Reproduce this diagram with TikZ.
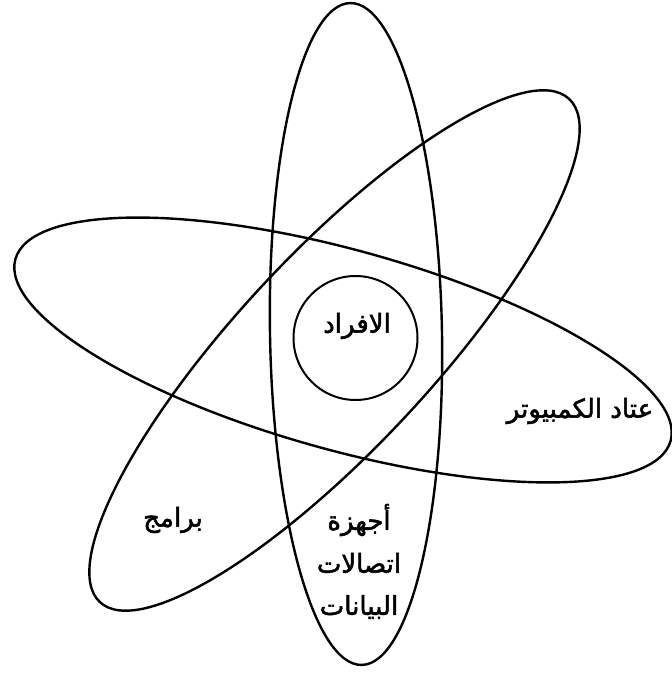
\documentclass[tikz,border=0pt]{standalone}
\usepackage{fontspec}
\usepackage{tikz}
\usetikzlibrary{positioning}
\TeXXeTstate=1
\newfontfamily\arabicfont[Script=Arabic, AutoFakeBold=2]{DejaVu Sans}
\tikzset{
  orbit/.style={draw=black, line width=2.4pt},
  core/.style={circle, draw=black, line width=2pt, minimum size=124pt,
    inner sep=0pt},
  arabic label/.style={font=\arabicfont\bfseries\fontsize{26}{30}\selectfont,
    inner sep=1pt}
}

\begin{document}
\begin{tikzpicture}[x=1pt,y=1pt]
  \useasboundingbox (0,0) rectangle (672,673);
  \coordinate (vcentre) at (356,339);
  \coordinate (hcentre) at (343,323);
  \coordinate (dcentre) at (334.5,322.5);
  % the three orbits
  \draw[orbit] (vcentre) ellipse [x radius=331, y radius=86, rotate=91];
  \draw[orbit] (hcentre) ellipse [x radius=340, y radius=100, rotate=-15.5];
  \draw[orbit] (dcentre) ellipse [x radius=344, y radius=97, rotate=47];
  % nucleus
  \node[core] (people) at (355.5,335) {};
  \node[arabic label] (peopletext) at (357,347) {\beginR الافراد\endR};
  \node[arabic label] (hardware) at (580,262) {\beginR عتاد الكمبيوتر\endR};
  \node[arabic label] (software) at (173,153) {\beginR برامج\endR};
  \node[arabic label] (devices) at (359,153) {\beginR أجهزة\endR};
  \node[arabic label, below=43pt of devices.center, anchor=center] (links)
    {\beginR اتصالات\endR};
  \node[arabic label, below=87pt of devices.center, anchor=center] (data)
    {\beginR البيانات\endR};
\end{tikzpicture}
\end{document}
